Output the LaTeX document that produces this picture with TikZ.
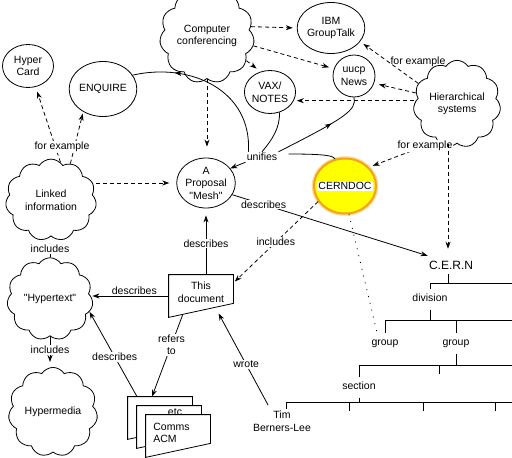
\documentclass[tikz,border=0pt]{standalone}
\usepackage{fontspec}
\setmainfont{Liberation Sans}[Ligatures=TeXOff]
\usepackage{xcolor}
\definecolor{DocYellow}{HTML}{FFFF00}
\definecolor{DocRim}{HTML}{F2A21C}
\definecolor{DocGlow}{HTML}{FBD98A}
\usepackage{tikz}
\usetikzlibrary{arrows.meta,calc,shapes.geometric,shapes.symbols,decorations.markings}

\newcommand{\docoutline}[1]{%
  \filldraw[fill=white] (#1.north west) -- (#1.north east) -- ([yshift=14pt]#1.south east) -- (#1.south west) -- cycle;}

\begin{document}
\begin{tikzpicture}[x=1pt, y=-1pt, >={Stealth[length=7pt,width=5pt]}, line width=0.8pt,
  every node/.style={font=\fontsize{10.5}{12.5}\selectfont, align=center, inner sep=1pt},
  bubble/.style={ellipse, draw, inner sep=0pt},
  puff/.style={cloud, draw, cloud puffs=11, cloud puff arc=115, inner sep=0pt},
  docbox/.style={rectangle, minimum width=64pt, minimum height=42pt, inner sep=0pt},
  hint/.style={dash pattern=on 4pt off 3pt},
  tag/.style={fill=white},
  orglabel/.style={text height=7pt, text depth=2pt, outer ysep=5pt},
  arrowat/.style={decoration={markings, mark=at position #1 with {\arrow{>}}}, postaction={decorate}}]
  \path[use as bounding box, fill=white] (0,0) rectangle (512,458);

  \node[bubble, minimum width=51pt, minimum height=43pt] (hypercard) at (28,66) {Hyper\\Card};
  \node[bubble, minimum width=60pt, minimum height=55pt] (enquire) at (103,89) {ENQUIRE};
  \node[puff, minimum width=72pt, minimum height=57pt] (conf) at (207,36) {Computer\\conferencing};
  \node[bubble, minimum width=55pt, minimum height=51pt] (ibm) at (331,28) {IBM\\GroupTalk};
  \node[bubble, minimum size=42pt] (uucp) at (354,76) {uucp\\News};
  \node[bubble, minimum size=43pt] (vax) at (270,92) {VAX/\\NOTES};
  \node[puff, minimum width=78pt, minimum height=57pt] (hier) at (457,104) {Hierarchical\\systems};
  \node[puff, minimum width=91pt, minimum height=65pt] (linked) at (51,200) {Linked\\information};
  \node[bubble, minimum width=55pt, minimum height=50pt] (mesh) at (206,183) {A\\Proposal\\"Mesh"};
  \node[ellipse, fill=DocYellow, draw=DocRim, line width=2pt, preaction={draw=DocGlow, line width=4.5pt},
    minimum width=62pt, minimum height=55pt, inner sep=0pt,
    label={[fill=white]center:CERNDOC}] (cerndoc) at (345,186) {};
  \node[puff, minimum width=86pt, minimum height=62pt] (hypertext) at (50,299) {"Hypertext"};
  \node[puff, minimum width=87pt, minimum height=61pt] (hypermedia) at (53,412) {Hypermedia};

  \node[docbox] (thisdoc) at (201,296) {};
  \docoutline{thisdoc}
  \node (thisdoctext) at (201,292) {This\\document};
  \node[docbox] (paperA) at (160,418) {};
  \docoutline{paperA}
  \node[docbox] (paperB) at (169,427) {};
  \docoutline{paperB}
  \node[docbox] (paperC) at (178,436) {};
  \docoutline{paperC}
  \node (etc) at (175,412) {etc};
  \node[anchor=west, align=left] (comms) at (152,433) {Comms\\ACM};

  \node[font=\fontsize{12}{14}\selectfont, outer ysep=4pt] (cern) at (451,265) {C.E.R.N};
  \node[orglabel] (division) at (430,299) {division};
  \node[orglabel] (groupA) at (385,343) {group};
  \node[orglabel] (groupB) at (456,343) {group};
  \node[orglabel] (section) at (359,387) {section};
  \node (tim) at (282,421) {Tim\\Berners-Lee};
  \node (unifies) at (262,157) {unifies};

  \coordinate (rowA) at (512,283);
  \coordinate (rowB) at (512,320);
  \coordinate (rowC) at (512,365);
  \coordinate (rowD) at (512,402);
  \draw ([xshift=-3pt]cern.south) -- ([xshift=-3pt]cern.south |- rowA);
  \draw (division.north) |- (rowA);
  \draw (division.south) -- (division.south |- rowB);
  \draw (groupA.north) |- (rowB);
  \draw (groupB.north) -- (groupB.north |- rowB);
  \draw (groupB.south) -- (groupB.south |- rowC);
  \draw (section.north) |- (rowC);
  \draw (section.south) -- (section.south |- rowD);
  \draw ([xshift=4pt]tim.north) |- (rowD);
  \foreach \x/\y in {439/365, 349/402, 423/402, 495/402}
    \draw (\x,\y) -- ++(0,9);

  \draw[hint, ->, shorten >=5pt] (linked.76) -- (hypercard.-70);
  \draw[hint, ->, shorten >=2pt] (linked.62) -- (enquire.-131);
  \node[tag] (forexA) at (62,147) {for example};
  \draw[hint, ->, shorten >=7pt] (mesh.west -| linked.east) -- (mesh.west);
  \draw[hint, ->, shorten >=11pt] (conf.south) -- (conf.south |- mesh.north);
  \draw[hint, ->, shorten >=4pt] (conf.12) -- (ibm.west);
  \draw[hint, ->, shorten >=5pt] (conf.-12) -- (uucp.160);
  \draw[hint, ->, shorten >=5pt] (conf.-32) -- (vax.115);
  \draw[hint, ->, shorten >=4pt] (hier.152) -- (ibm.-25);
  \draw[hint, ->, shorten >=5pt] (hier.165) -- (uucp.-20);
  \draw[hint, ->, shorten >=3pt] (vax.-20 -| hier.west) -- (vax.-20);
  \node (forexB) at (418,62) {for example};
  \draw[hint, ->, shorten >=4pt] (hier.-118) -- (cerndoc.38);
  \node[tag] (forexC) at (425,146) {for example};
  \draw[hint, ->, shorten >=7pt] ([xshift=-3pt]cern.north |- hier.south) -- ([xshift=-3pt]cern.north);

  \draw[->] (unifies.south west) -- (mesh.31);
  \draw[arrowat=0.74] ([xshift=3pt]unifies.north west) .. controls (252,90) and (190,62) .. (enquire.25);
  \draw (unifies.north) .. controls (272,140) and (280,128) .. (vax.-65);
  \draw[arrowat=0.62] (unifies.north east) .. controls (345,118) and (357,110) .. (uucp.south);
  \draw[shorten <=10pt] ([yshift=3pt]unifies.east) .. controls (328,154) and (333,156) .. (cerndoc.110);

  \draw[->] (mesh.-24) -- (cern.north west) node[tag, pos=0.16] {describes};
  \draw[->, shorten >=7pt] (mesh.south |- thisdoc.north) -- (mesh.south) node[tag, pos=0.47] {describes};
  \draw[hint, ->, shorten >=2pt] (cerndoc.-150) -- (thisdoc.22) node[tag, midway] {includes};
  \draw[->] (thisdoc.west) -- (thisdoc.west -| hypertext.east) node[above, pos=0.45] {describes};
  \draw[->] ($(thisdoc.south west)!0.22!([yshift=14pt]thisdoc.south east)$) -- ([xshift=-8pt]paperA.north) node[tag, pos=0.37] {refers\\to};
  \draw[->] ([xshift=-23pt]paperA.north) -- (hypertext.-18) node[tag, pos=0.47] {describes};
  \draw[->, shorten <=5pt, shorten >=7pt] (tim.135) -- ($(thisdoc.south west)!0.72!([yshift=14pt]thisdoc.south east)$) node[tag, pos=0.44] {wrote};
  \draw[->, shorten >=7pt] (hypertext.north) -- (hypertext.north |- linked.south) node[tag, pos=0.4] {includes};
  \draw[->, shorten >=5pt] (hypertext.south) -- (hypertext.south |- hypermedia.north) node[tag, pos=0.45] {includes};
  \draw[dash pattern=on 1pt off 6pt] (cerndoc.-82) -- ([xshift=-8pt]groupA.north);
\end{tikzpicture}
\end{document}
